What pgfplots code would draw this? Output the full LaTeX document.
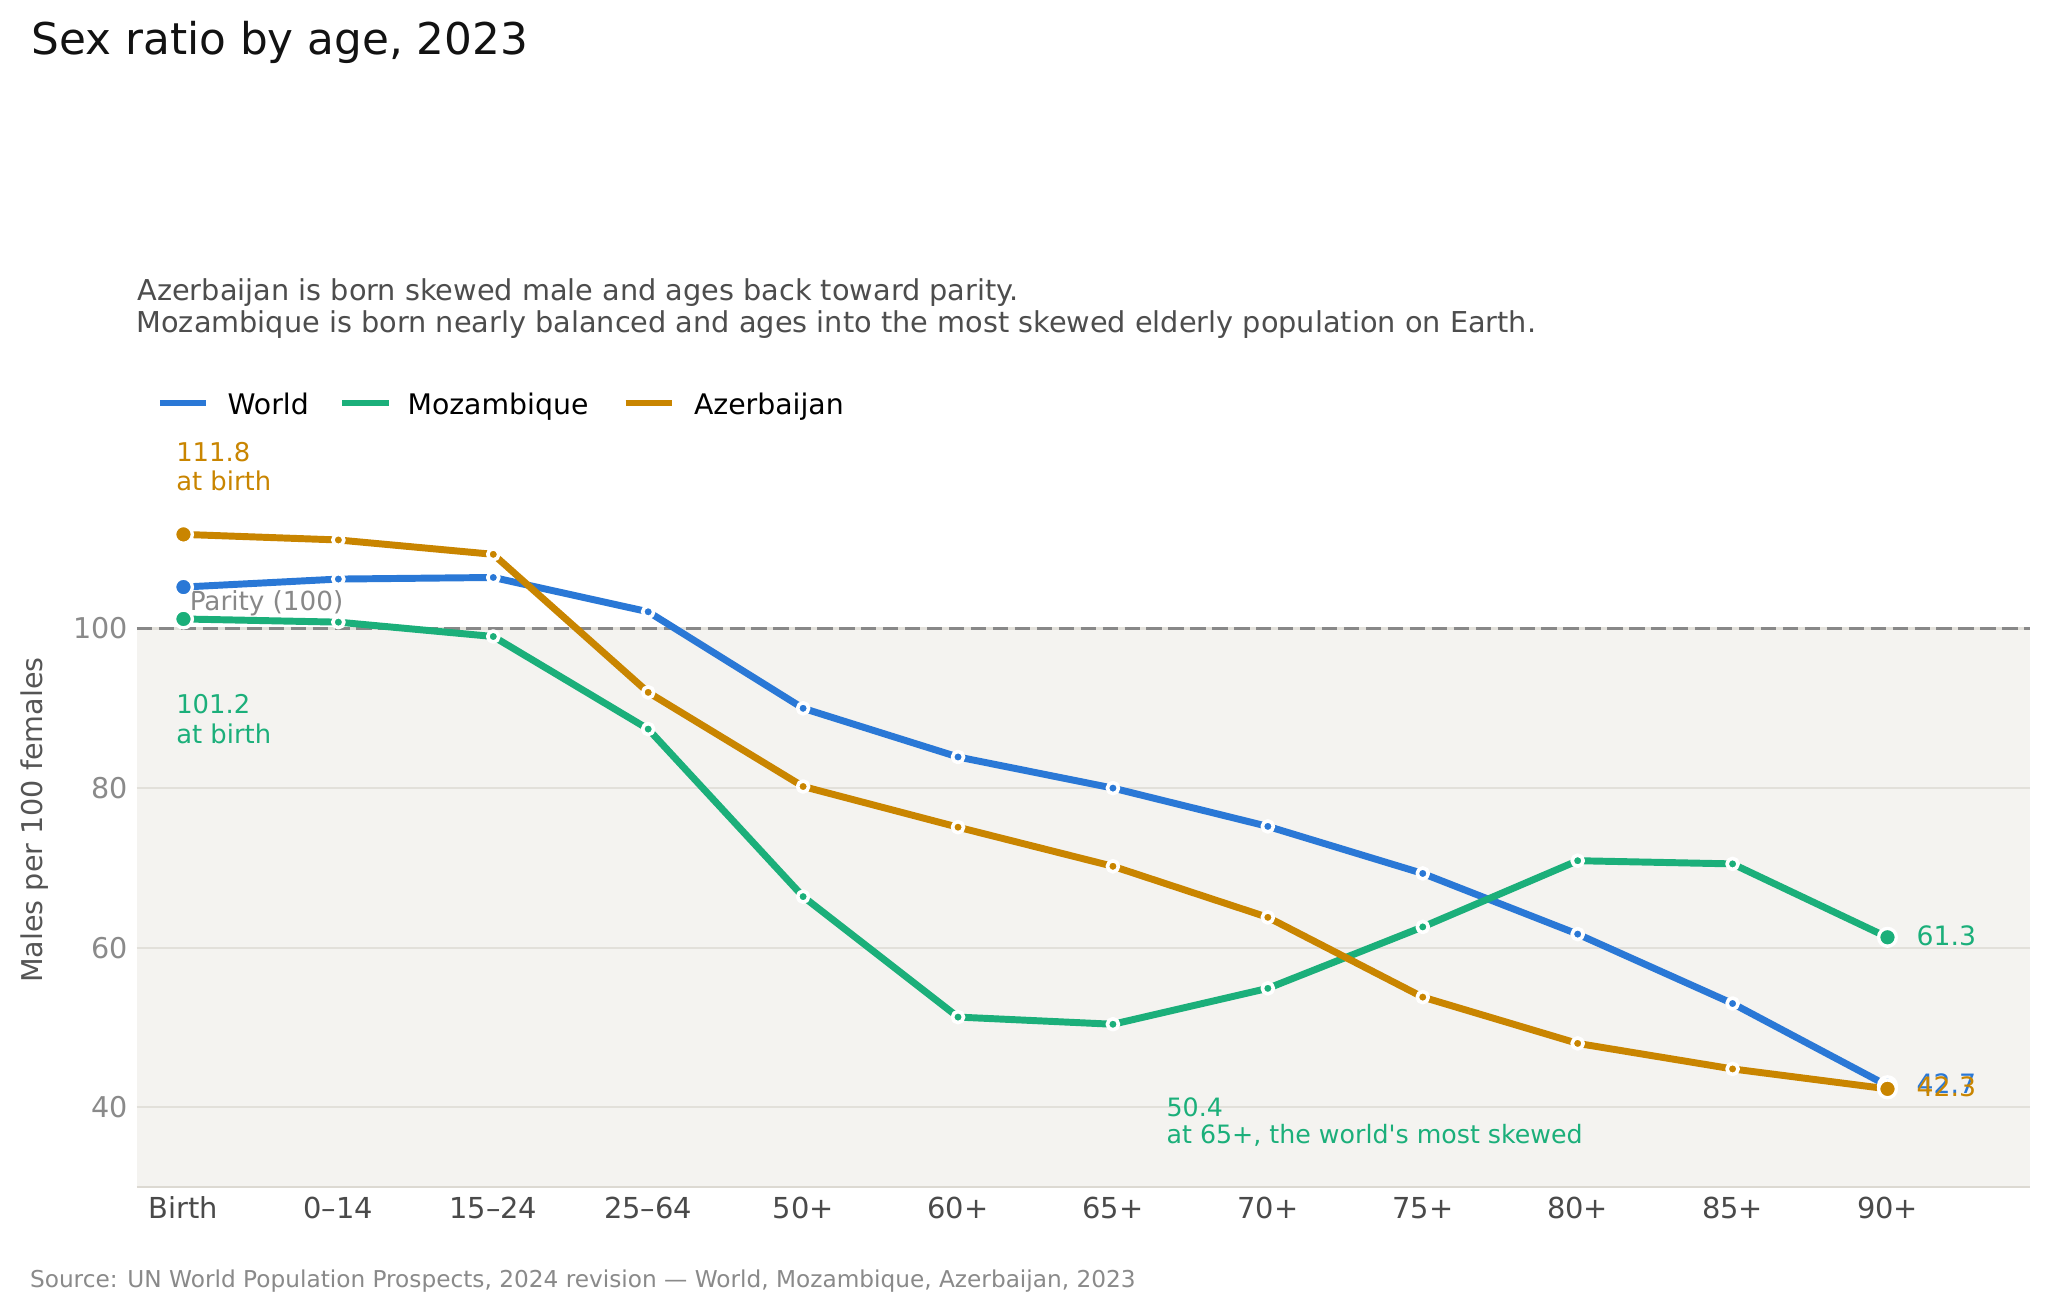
\documentclass[border=0pt]{standalone}
\usepackage{pgfplots}
\usepackage{pgfplotstable}
\pgfplotsset{compat=1.18}
\usepackage{fontspec}
\setmainfont{DejaVu Sans}
\definecolor{wcol}{HTML}{2A78D6}
\definecolor{mcol}{HTML}{1BAF7A}
\definecolor{acol}{HTML}{C98500}
\definecolor{bandc}{HTML}{F4F3F0}
\definecolor{gridc}{HTML}{E2E0DA}
\definecolor{spinec}{HTML}{DCD9D2}
\definecolor{parc}{HTML}{888888}
\definecolor{subc}{HTML}{4D4D4D}
\definecolor{xtc}{HTML}{4A4A4A}
\definecolor{ytc}{HTML}{8A8A8A}
\definecolor{ylc}{HTML}{555555}
\definecolor{srcc}{HTML}{8A8A8A}

\pgfplotstableread{
x world moz aze
0 105.2 101.2 111.8
1 106.2 100.8 111.1
2 106.4 99.0 109.3
3 102.1 87.4 92.0
4 90.0 66.4 80.2
5 83.9 51.3 75.1
6 80.0 50.4 70.2
7 75.2 54.9 63.8
8 69.3 62.6 53.8
9 61.7 70.9 48.0
10 53.0 70.5 44.8
11 42.7 61.3 42.3
}\datatable

\begin{document}
\begin{tikzpicture}
\path[use as bounding box, fill=white] (0,0) rectangle (737.28pt,-471.96pt);
\begin{scope}[x=0.36pt,y=-0.36pt]
  % title
  \node[anchor=base west, inner sep=0pt, font=\fontsize{15.75}{19}\selectfont, text=black!93] at (31,54) {Sex ratio by age, 2023};
  % subtitle
  \node[anchor=base west, inner sep=0pt, font=\fontsize{10.35}{12}\selectfont, text=subc] at (137,300) {Azerbaijan is born skewed male and ages back toward parity.};
  \node[anchor=base west, inner sep=0pt, font=\fontsize{10.35}{12}\selectfont, text=subc] at (136,332.7) {Mozambique is born nearly balanced and ages into the most skewed elderly population on Earth.};
  % legend
  \draw[wcol, line width=2.4pt] (160,403) -- (205.6,403);
  \node[anchor=base west, inner sep=0pt, font=\fontsize{10.2}{12}\selectfont] at (227,414.3) {World};
  \draw[mcol, line width=2.4pt] (342,403) -- (389,403);
  \node[anchor=base west, inner sep=0pt, font=\fontsize{10.2}{12}\selectfont] at (407,414.3) {Mozambique};
  \draw[acol, line width=2.4pt] (625.5,403) -- (672,403);
  \node[anchor=base west, inner sep=0pt, font=\fontsize{10.2}{12}\selectfont] at (693.5,414.3) {Azerbaijan};
  % y label
  \node[rotate=90, anchor=base, inner sep=0pt, font=\fontsize{10.3}{12}\selectfont, text=ylc] at (43,820) {Males per 100 females};
  % source
  \node[anchor=base west, inner sep=0pt, font=\fontsize{8.36}{10}\selectfont, text=srcc] at (29.5,1287) {Source: UN World Population Prospects, 2024 revision --- World, Mozambique, Azerbaijan, 2023};
\end{scope}

\begin{axis}[
  at={(49.32pt,-427.32pt)}, anchor=south west,
  scale only axis, width=681.48pt, height=264.24pt,
  xmin=-0.3, xmax=11.92, ymin=30, ymax=122,
  clip=false,
  axis line style={draw=none},
  major tick style={draw=none},
  xtick={0,1,2,3,4,5,6,7,8,9,10,11},
  xticklabels={Birth,0--14,15--24,25--64,50+,60+,65+,70+,75+,80+,85+,90+},
  ytick={40,60,80,100},
  /pgf/number format/assume math mode=true,
  xticklabel style={font=\fontsize{10.4}{12}\selectfont, text=xtc, anchor=north, inner sep=0pt, text height=7.7pt, text depth=0pt, yshift=-3.46pt},
  yticklabel style={font=\fontsize{10.3}{12}\selectfont, text=ytc, anchor=east, inner sep=0pt, xshift=-3pt},
]
  % background band and grid
  \fill[bandc] (axis cs:-0.3,30) rectangle (axis cs:11.92,100);
  \draw[gridc, line width=0.7pt] (axis cs:-0.3,40) -- (axis cs:11.92,40);
  \draw[gridc, line width=0.7pt] (axis cs:-0.3,60) -- (axis cs:11.92,60);
  \draw[gridc, line width=0.7pt] (axis cs:-0.3,80) -- (axis cs:11.92,80);
  \draw[gridc, line width=0.9pt] (axis cs:-0.3,100) -- (axis cs:11.92,100);
  \draw[spinec, line width=1pt] (axis cs:-0.3,30) -- (axis cs:11.92,30);
  \draw[parc, line width=1.1pt, dash pattern=on 5.5pt off 2.4pt] (axis cs:-0.3,100) -- (axis cs:11.92,100);
  \node[anchor=base west, inner sep=0pt, font=\fontsize{9.45}{12}\selectfont, text=parc] at (axis cs:0.037,102.24) {Parity (100)};

  % World
  \addplot[wcol, line width=2.5pt, line join=round, mark=*, mark size=2.0pt,
    mark options={fill=wcol, draw=white, line width=1.3pt, solid}]
    table[x=x, y=world] \datatable;
  \addplot[only marks, mark=*, mark size=3.2pt, mark options={fill=wcol, draw=white, line width=1.2pt}]
    table[x=x, y=world, skip coords between index={1}{11}] \datatable;
  % Mozambique
  \addplot[mcol, line width=2.5pt, line join=round, mark=*, mark size=2.0pt,
    mark options={fill=mcol, draw=white, line width=1.3pt, solid}]
    table[x=x, y=moz] \datatable;
  \addplot[only marks, mark=*, mark size=3.2pt, mark options={fill=mcol, draw=white, line width=1.2pt}]
    table[x=x, y=moz, skip coords between index={1}{11}] \datatable;
  % Azerbaijan
  \addplot[acol, line width=2.5pt, line join=round, mark=*, mark size=2.0pt,
    mark options={fill=acol, draw=white, line width=1.3pt, solid}]
    table[x=x, y=aze] \datatable;
  \addplot[only marks, mark=*, mark size=3.2pt, mark options={fill=acol, draw=white, line width=1.2pt}]
    table[x=x, y=aze, skip coords between index={1}{11}] \datatable;

  % annotations
  \node[anchor=base west, inner sep=0pt, font=\fontsize{9.3}{11}\selectfont, text=acol] at (axis cs:-0.05,120.9) {111.8};
  \node[anchor=base west, inner sep=0pt, font=\fontsize{9.3}{11}\selectfont, text=acol] at (axis cs:-0.05,117.24) {at birth};
  \node[anchor=base west, inner sep=0pt, font=\fontsize{9.3}{11}\selectfont, text=mcol] at (axis cs:-0.05,89.41) {101.2};
  \node[anchor=base west, inner sep=0pt, font=\fontsize{9.3}{11}\selectfont, text=mcol] at (axis cs:-0.05,85.65) {at birth};
  \node[anchor=base west, inner sep=0pt, font=\fontsize{9.1}{11}\selectfont, text=mcol] at (axis cs:6.343,38.9) {50.4};
  \node[anchor=base west, inner sep=0pt, font=\fontsize{9.1}{11}\selectfont, text=mcol] at (axis cs:6.343,35.5) {at 65+, the world\textquotesingle s most skewed};
  % end labels
  \node[anchor=west, inner sep=0pt, yshift=0.7pt, font=\fontsize{9.6}{11}\selectfont, text=mcol] at (axis cs:11.185,61.3) {61.3};
  \node[anchor=west, inner sep=0pt, yshift=0.7pt, font=\fontsize{9.6}{11}\selectfont, text=wcol] at (axis cs:11.185,42.7) {42.7};
  \node[anchor=west, inner sep=0pt, yshift=0.7pt, font=\fontsize{9.6}{11}\selectfont, text=acol] at (axis cs:11.185,42.3) {42.3};
\end{axis}
\end{tikzpicture}
\end{document}
